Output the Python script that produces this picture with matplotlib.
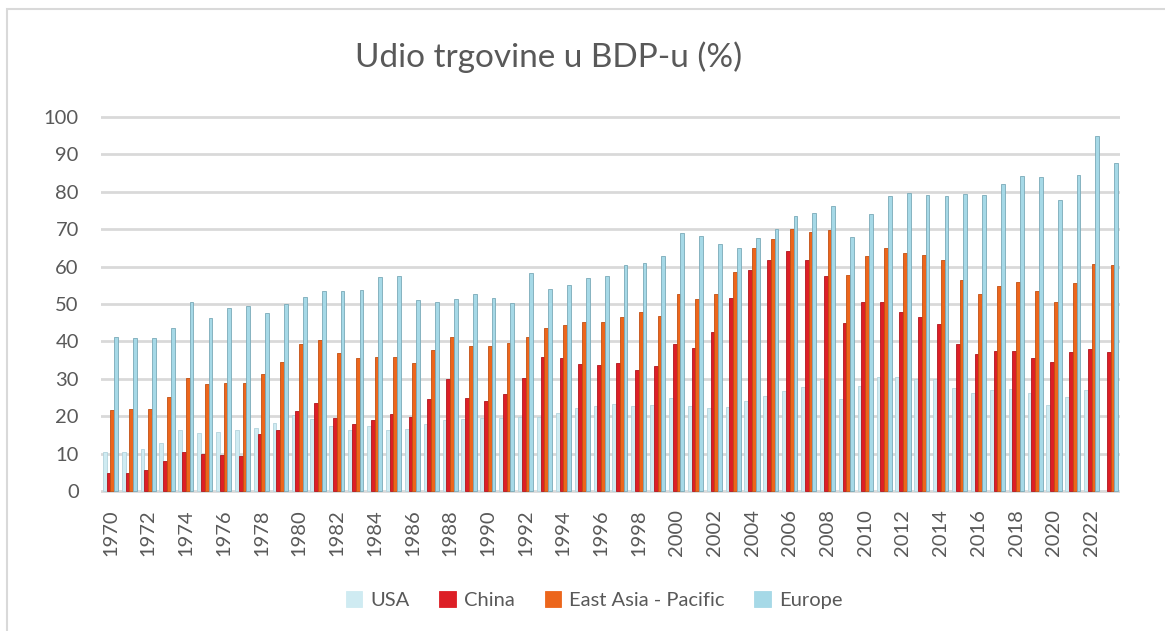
import matplotlib
matplotlib.use("Agg")
import matplotlib.pyplot as plt
import numpy as np
from matplotlib.patches import Rectangle

plt.rcParams['font.family'] = ['Lato', 'DejaVu Sans']

years = list(range(1970, 2024))
usa = [10.5, 10.5, 11.2, 12.9, 16.2, 15.4, 15.9, 16.2, 16.8, 18.2,
       20.2, 19.3, 17.4, 16.4, 17.4, 16.3, 16.6, 17.8, 19.0, 19.3,
       19.6, 19.6, 19.9, 19.9, 20.9, 22.3, 22.6, 23.3, 22.7, 23.1,
       25.0, 22.8, 22.1, 22.5, 24.2, 25.5, 26.8, 27.8, 29.9, 24.6,
       28.0, 30.6, 30.5, 29.9, 29.9, 27.6, 26.3, 26.9, 27.3, 26.1,
       22.9, 25.1, 26.9, np.nan]
china = [4.8, 4.8, 5.7, 8.1, 10.3, 9.8, 9.5, 9.3, 15.3, 16.4,
         21.4, 23.6, 19.5, 17.8, 19.0, 20.5, 19.8, 24.7, 30.0, 25.0,
         24.1, 25.9, 30.1, 35.9, 35.6, 34.0, 33.7, 34.3, 32.3, 33.3,
         39.2, 38.3, 42.6, 51.6, 59.2, 61.9, 64.2, 61.9, 57.4, 45.0,
         50.5, 50.5, 48.0, 46.5, 44.7, 39.3, 36.6, 37.5, 37.4, 35.6,
         34.6, 37.2, 38.1, 37.2]
east_asia = [21.7, 21.8, 21.8, 25.1, 30.3, 28.5, 29.0, 28.8, 31.3, 34.4,
             39.4, 40.4, 37.0, 35.5, 35.9, 35.7, 34.1, 37.6, 41.1, 38.9,
             38.9, 39.5, 41.1, 43.7, 44.4, 45.3, 45.2, 46.5, 48.0, 46.9,
             52.7, 51.3, 52.8, 58.5, 65.1, 67.5, 70.1, 69.3, 69.8, 57.7,
             62.9, 65.1, 63.7, 63.0, 61.9, 56.4, 52.7, 54.8, 55.8, 53.5,
             50.6, 55.7, 60.8, 60.4]
europe = [41.1, 41.0, 40.8, 43.5, 50.6, 46.3, 49.0, 49.5, 47.7, 50.0,
          52.0, 53.6, 53.6, 53.7, 57.1, 57.5, 51.1, 50.5, 51.3, 52.8,
          51.7, 50.2, 58.2, 54.0, 55.1, 57.0, 57.4, 60.5, 61.0, 62.8,
          69.0, 68.1, 66.0, 65.1, 67.6, 70.0, 73.6, 74.4, 76.2, 67.8,
          74.1, 78.8, 79.7, 79.2, 79.0, 79.5, 79.2, 82.0, 84.2, 84.0,
          77.8, 84.4, 94.9, 87.8]

series = [("USA", usa, "#cfebf2", "#b3d3dc"),
          ("China", china, "#dd1f26", "#b0161c"),
          ("East Asia - Pacific", east_asia, "#ec661c", "#c24f12"),
          ("Europe", europe, "#a6d9e7", "#7aaab8")]

text_col = "#595959"

fig = plt.figure(figsize=(11.65, 6.31), dpi=100)
ax = fig.add_axes([101/1165, 1 - 492.5/631, (1120 - 101)/1165, 379.2/631])

x = np.arange(len(years))
w = 0.2
for i, (name, vals, col, edge) in enumerate(series):
    ax.bar(x + (i - 1.5) * w, vals, width=w, color=col, edgecolor=edge,
           linewidth=0.6, label=name, zorder=3)

ax.set_xlim(-0.5, len(years) - 0.5)
ax.set_ylim(-0.4, 101)
ax.set_yticks(range(0, 101, 10))
ax.set_xticks(x[::2])
ax.set_xticklabels([str(y) for y in years[::2]], rotation=90)
ax.grid(axis='y', color='#d9d9d9', linewidth=2, zorder=0)
for s in ax.spines.values():
    s.set_visible(False)
ax.tick_params(axis='both', length=0, labelsize=14.5, colors=text_col)
ax.tick_params(axis='y', pad=16)
ax.tick_params(axis='x', pad=12)

fig.text(549/1165, 1 - 57/631, "Udio trgovine u BDP-u (%)", ha='center',
         va='center', fontsize=24, color=text_col)

leg = fig.legend(loc='center', bbox_to_anchor=(594/1165, 1 - 600/631), ncol=4,
                 frameon=False, fontsize=14.5, handlelength=0.8, handleheight=0.8,
                 handletextpad=0.4, columnspacing=1.5)
for t in leg.get_texts():
    t.set_color(text_col)
for h in leg.legend_handles:
    h.set_edgecolor(h.get_facecolor())

fig.patches.append(Rectangle((7/1165, -0.1), 1.2, 1 - 8.5/631 + 0.1,
                             transform=fig.transFigure, fill=False,
                             edgecolor='#d9d9d9', linewidth=1.5))

fig.savefig("out.png", dpi=100)
